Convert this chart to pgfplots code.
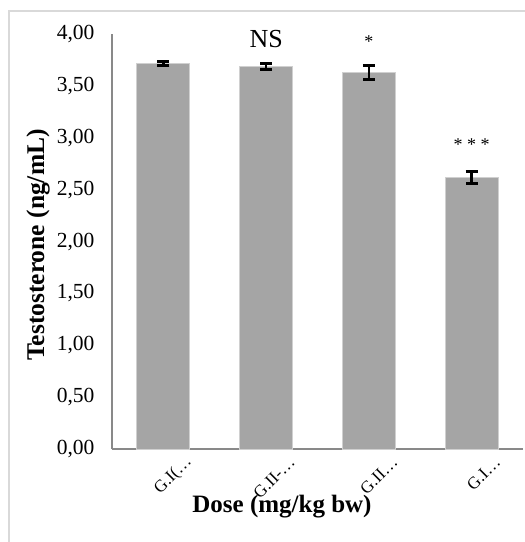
\documentclass[border=0pt]{standalone}
\usepackage{pgfplots}
\pgfplotsset{compat=1.18}
\usepackage{fontspec}
\setmainfont{Liberation Serif}
\definecolor{barfill}{HTML}{A5A5A5}
\definecolor{baredge}{HTML}{D0D0D0}
\definecolor{axisgray}{HTML}{898989}
\definecolor{framegray}{HTML}{D9D9D9}
\begin{document}
\begin{tikzpicture}[x=1pt,y=1pt]
\useasboundingbox (0,0) rectangle (525,-542);
\draw[framegray, line width=2pt] (9,-542) -- (9,-11) -- (525,-11);
\begin{axis}[
  at={(112pt,-449pt)}, anchor=south west,
  scale only axis, width=411pt, height=415pt,
  clip=false,
  xmin=-0.5, xmax=3.5, ymin=0, ymax=4,
  axis x line*=bottom, axis y line*=left,
  axis line style={axisgray, line width=1.4pt},
  x axis line style={-}, y axis line style={-},
  ytick={0,0.5,...,4},
  major tick length=0pt,
  xtick={0,1,2,3},
  xticklabels={G.I(…,G.II-…,G.II…,G.I…},
  xticklabel style={rotate=45, anchor=east, font=\fontsize{17}{17}\selectfont, xshift=14pt, yshift=-26pt},
  yticklabel style={font=\fontsize{21.5}{21.5}\selectfont, xshift=-14pt},
  /pgf/number format/.cd, use comma, fixed, fixed zerofill, precision=2, assume math mode=true,
  ]
\addplot[ybar, bar width=53pt, fill=barfill, draw=baredge, line width=0.8pt,
  error bars/.cd, y dir=both, y explicit,
  error bar style={black, line width=2.6pt},
  error mark options={rotate=90, mark size=6pt, line width=2.6pt, black}]
  coordinates {
  (0,3.715) +- (0,0.018)
  (1,3.688) +- (0,0.030)
  (2,3.628) +- (0,0.068)
  (3,2.619) +- (0,0.058)
  };
\node[font=\fontsize{26}{26}\selectfont] at (axis cs:1,3.95) {NS};
\node[font=\fontsize{18}{18}\selectfont] at (axis cs:2,3.93) {*};
\node[font=\fontsize{18}{18}\selectfont] at (axis cs:3,2.93) {* * *};
\end{axis}
\node[font=\bfseries\fontsize{25}{25}\selectfont] at (282,-507) {Dose (mg/kg bw)};
\node[font=\bfseries\fontsize{25.5}{25.5}\selectfont, rotate=90] at (38,-245) {Testosterone (ng/mL)};
\end{tikzpicture}
\end{document}
